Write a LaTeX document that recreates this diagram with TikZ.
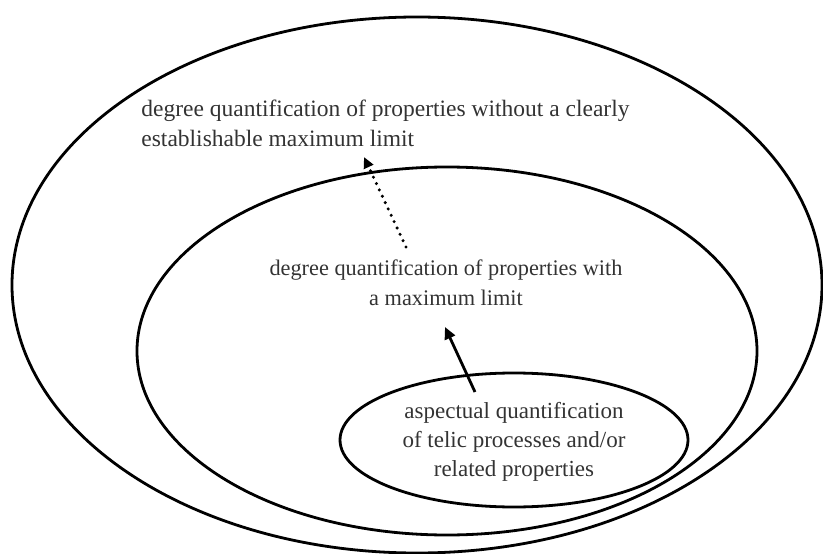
\documentclass[tikz,border=0pt]{standalone}
\usepackage{fontspec}
\setmainfont{Liberation Serif}
\usetikzlibrary{arrows.meta}

\begin{document}
\begin{tikzpicture}[x=1pt,y=-1pt]
	
	\useasboundingbox (0,0) rectangle (823,554);
	
	\tikzstyle{every path}=[line width=2.8pt]
	
	\draw (417,285) ellipse (405pt and 268pt);
	\draw (447,351) ellipse (310pt and 184pt);
	\draw (514,440) ellipse (174pt and 67pt);
	
	\tikzstyle{every node}=[inner sep=0pt, text=black!80, font=\fontsize{23}{30}\selectfont]
	
	\node[anchor=north west, align=left, font=\fontsize{23.5}{30}\selectfont] (outertxt) at (140,99) {degree quantification of properties without a clearly\\establishable maximum limit};
	\node[align=center, font=\fontsize{22.3}{30}\selectfont] (midtxt) at (446,283) {degree quantification of properties with\\a maximum limit};
	\node[align=center, font=\fontsize{23}{29}\selectfont] (innertxt) at (514,442) {aspectual quantification\\of telic processes and/or\\related properties};
	
	\coordinate (dotfrom) at (406,247);
	\coordinate (dotto) at (364,157);
	\coordinate (arrfrom) at (475,392);
	\coordinate (arrto) at (445,327);
	
	\draw[-{Triangle[length=11pt,width=10pt]}, line width=3.4pt, line cap=round, dash pattern=on 0pt off 7pt] (dotfrom) -- (dotto);
	\draw[-{Triangle[length=12pt,width=11pt]}] (arrfrom) -- (arrto);
	
\end{tikzpicture}
\end{document}
